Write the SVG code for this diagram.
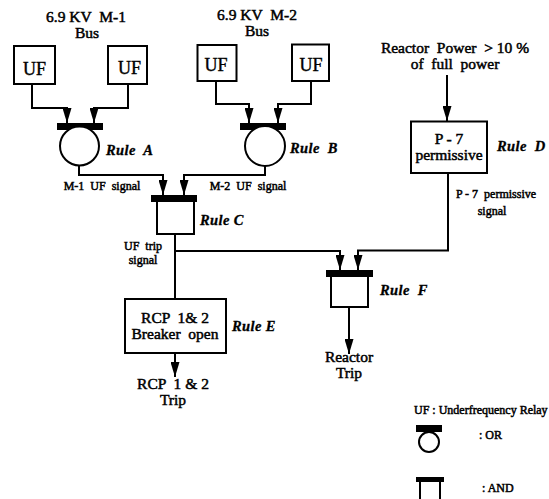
<svg xmlns="http://www.w3.org/2000/svg" width="549" height="499" viewBox="0 0 549 499">
<defs>
<marker id="arr" markerUnits="userSpaceOnUse" markerWidth="16" markerHeight="9" refX="15" refY="4.5" orient="auto" viewBox="0 0 16 9"><path d="M0 0L15 4.500L0 9Z" fill="#000"/></marker>
</defs>
<style>
text{font-family:"Liberation Serif",serif;font-weight:normal;fill:#000;stroke:#000;stroke-width:.5;text-anchor:middle;white-space:pre}
.n{font-size:15.5px}
.u{font-size:18px;stroke-width:.4}
.s{font-size:12px;stroke-width:.5}
.r{font-size:14.5px;font-style:italic;font-weight:bold;letter-spacing:.4px;stroke-width:.3}
.l{text-anchor:start}
.b{fill:#fff;stroke:#000;stroke-width:2}
.c{fill:none;stroke:#000;stroke-width:2}
.a{fill:#000;stroke:none}
</style>
<rect width="549" height="499" fill="#fff"/>
<g id="connectors">
<path class="c" d="M32 84V108H67V123" marker-end="url(#arr)"/>
<path class="c" d="M128 84V108H94V123" marker-end="url(#arr)"/>
<path class="c" d="M216 81V104H249V123" marker-end="url(#arr)"/>
<path class="c" d="M311 81V104H278V123" marker-end="url(#arr)"/>
<path class="c" d="M79 166V175H163V195" marker-end="url(#arr)"/>
<path class="c" d="M265 166V175H184V195" marker-end="url(#arr)"/>
<path class="c" d="M447 75V121" marker-end="url(#arr)"/>
<path class="c" d="M448 173V250.500H358V270" marker-end="url(#arr)"/>
<path class="c" d="M175 234V299"/>
<path class="c" d="M175 251H340V270" marker-end="url(#arr)"/>
<path class="c" d="M349 307V354" marker-end="url(#arr)"/>
<path class="c" d="M175 353V377" marker-end="url(#arr)"/>
</g>
<g id="title-m1"><text class="n" x="86" y="22">6.9 KV  M-1</text><text class="n" x="87" y="38">Bus</text></g>
<g id="title-m2"><text class="n" x="257" y="20">6.9 KV  M-2</text><text class="n" x="257" y="36">Bus</text></g>
<g id="uf1"><rect class="b" x="14" y="46" width="41" height="38"/><text class="u" x="34.500" y="75">UF</text></g>
<g id="uf2"><rect class="b" x="108" y="46" width="39" height="38"/><text class="u" x="129.500" y="74">UF</text></g>
<g id="uf3"><rect class="b" x="197.500" y="45" width="39" height="36"/><text class="u" x="216" y="71">UF</text></g>
<g id="uf4"><rect class="b" x="292" y="44.500" width="37" height="36.500"/><text class="u" x="311" y="71">UF</text></g>
<g id="rule-a"><rect class="a" x="57" y="123" width="46" height="7"/><circle class="b" cx="79.500" cy="146" r="19.500"/><text class="r l" x="106" y="155">Rule  A</text></g>
<g id="rule-b"><rect class="a" x="240" y="123" width="46" height="7"/><circle class="b" cx="265" cy="146" r="20"/><text class="r l" x="290" y="153">Rule  B</text></g>
<g id="rule-c"><rect class="b" x="157" y="200" width="37" height="34"/><rect class="a" x="151" y="195" width="46" height="7"/><text class="r l" x="200" y="225">Rule C</text></g>
<g id="rule-d"><rect class="b" x="411" y="121.500" width="76" height="51.500"/><text class="n" x="449" y="144">P - 7</text><text class="n" x="449" y="160">permissive</text><text class="r l" x="497" y="151">Rule  D</text></g>
<g id="rule-e"><rect class="b" x="125" y="299" width="101" height="54"/><text class="n" x="175" y="323">RCP  1&amp; 2</text><text class="n" x="175" y="339">Breaker  open</text><text class="r l" x="232" y="331">Rule E</text></g>
<g id="rule-f"><rect class="b" x="331" y="275" width="37" height="32"/><rect class="a" x="326" y="270" width="47" height="7"/><text class="r l" x="380" y="295">Rule  F</text></g>
<g id="reactor-power"><text class="n" x="455" y="53">Reactor  Power  &gt; 10 %</text><text class="n" x="455" y="69">of  full  power</text></g>
<g id="labels">
<text class="s" x="102" y="190">M-1  UF  signal</text>
<text class="s" x="248" y="190">M-2  UF  signal</text>
<text class="s" x="143" y="250">UF  trip</text>
<text class="s" x="143" y="264">signal</text>
<text class="s" x="496" y="198">P - 7  permissive</text>
<text class="s" x="492" y="215">signal</text>
<text class="n" x="349" y="362">Reactor</text><text class="n" x="349" y="378">Trip</text>
<text class="n" x="173" y="389">RCP  1 &amp; 2</text><text class="n" x="173" y="405">Trip</text>
</g>
<g id="legend">
<text class="s l" x="414" y="414">UF : Underfrequency Relay</text>
<circle class="b" cx="429" cy="442" r="10"/><rect class="a" x="416" y="425" width="26" height="7"/><text class="s l" x="479" y="439">: OR</text>
<rect class="a" x="416" y="477" width="28" height="5"/><path class="c" d="M420 482V499M440 482V499"/><text class="s l" x="482" y="492">: AND</text>
</g>
</svg>
